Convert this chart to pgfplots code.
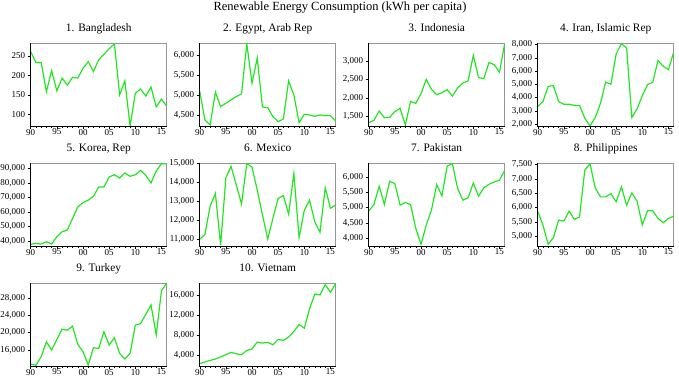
\documentclass[border=0pt]{standalone}
\usepackage{pgfplots}
\pgfplotsset{compat=1.18}
\usepgfplotslibrary{groupplots}
\usepackage{fontspec}
\setmainfont{Liberation Serif}
\definecolor{lime}{RGB}{34,230,34}
\definecolor{framegray}{RGB}{150,150,150}
\begin{document}
\begin{tikzpicture}
\begin{groupplot}[
  group style={group size=4 by 3, horizontal sep=33pt, vertical sep=37pt},
  scale only axis, width=136pt, height=83pt,
  xmin=1990, xmax=2016,
  xtick={1990,1995,2000,2005,2010,2015},
  xticklabels={90,95,00,05,10,15},
  minor x tick num=4,
  tick align=outside, xtick pos=bottom, ytick pos=left,
  major tick length=3pt, minor tick length=2pt,
  tick style={black, line width=0.4pt},
  axis line style={framegray, line width=0.8pt},
  extra description/.code={\draw[black,line width=0.5pt] (0,1) -- (0,0) -- (1,0);},
  scaled y ticks=false,
  tick label style={font=\fontsize{9}{10}\selectfont},
  /pgf/number format/fixed,
  /pgf/number format/1000 sep={,},
  /pgf/number format/assume math mode=true,
  yticklabel style={xshift=1pt},
  xticklabel style={yshift=3.5pt},
  every axis title/.style={font=\fontsize{11.4}{13}\selectfont, anchor=base, at={(0.5,1)}, yshift=12pt},
  no markers,
  every axis plot post/.append style={color=lime, line width=1.2pt},
]
\nextgroupplot[title={1. Bangladesh}, ymin=70, ymax=283, ytick={100,150,200,250}]
\addplot coordinates {(1990,261) (1991,233) (1992,233) (1993,158) (1994,212) (1995,160) (1996,193) (1997,175) (1998,195) (1999,193) (2000,218) (2001,235) (2002,210) (2003,240) (2004,254) (2005,268) (2006,281) (2007,150) (2008,186) (2009,70) (2010,154) (2011,165) (2012,147) (2013,170) (2014,119) (2015,139) (2016,121)};
\nextgroupplot[title={2. Egypt, Arab Rep}, ymin=4225, ymax=6292, ytick={4500,5000,5500,6000}]
\addplot coordinates {(1990,5100) (1991,4375) (1992,4250) (1993,5067) (1994,4708) (1995,4792) (1996,4875) (1997,4958) (1998,5025) (1999,6275) (2000,5292) (2001,5917) (2002,4700) (2003,4683) (2004,4458) (2005,4333) (2006,4400) (2007,5350) (2008,5000) (2009,4308) (2010,4517) (2011,4500) (2012,4467) (2013,4500) (2014,4483) (2015,4483) (2016,4350)};
\nextgroupplot[title={3. Indonesia}, ymin=1249, ymax=3476, ytick={1500,2000,2500,3000}]
\addplot coordinates {(1990,1338) (1991,1400) (1992,1651) (1993,1472) (1994,1481) (1995,1634) (1996,1724) (1997,1275) (1998,1910) (1999,1856) (2000,2117) (2001,2500) (2002,2233) (2003,2090) (2004,2144) (2005,2225) (2006,2054) (2007,2270) (2008,2404) (2009,2458) (2010,3144) (2011,2550) (2012,2520) (2013,2955) (2014,2892) (2015,2695) (2016,3460)};
\nextgroupplot[title={4. Iran, Islamic Rep}, ymin=1848, ymax=8127, ytick={2000,3000,4000,5000,6000,7000,8000}]
\addplot coordinates {(1990,3320) (1991,3700) (1992,4840) (1993,4910) (1994,3700) (1995,3500) (1996,3500) (1997,3400) (1998,3400) (1999,2440) (2000,1850) (2001,2490) (2002,3570) (2003,5170) (2004,5010) (2005,7290) (2006,8080) (2007,7750) (2008,2490) (2009,3150) (2010,4140) (2011,4980) (2012,5170) (2013,6810) (2014,6360) (2015,6110) (2016,7440)};
\nextgroupplot[title={5. Korea, Rep}, ymin=36560, ymax=93900, ytick={40000,50000,60000,70000,80000,90000}]
\addplot coordinates {(1990,37700) (1991,38400) (1992,37900) (1993,39500) (1994,37900) (1995,43000) (1996,46400) (1997,47600) (1998,55600) (1999,63600) (2000,66600) (2001,68200) (2002,70900) (2003,77300) (2004,77300) (2005,84200) (2006,85800) (2007,83500) (2008,87000) (2009,84700) (2010,85800) (2011,88800) (2012,85400) (2013,80100) (2014,88400) (2015,93400) (2016,93400)};
\nextgroupplot[title={6. Mexico}, ymin=10630, ymax=15035, ytick={11000,12000,13000,14000,15000}]
\addplot coordinates {(1990,10980) (1991,11250) (1992,12750) (1993,13420) (1994,10680) (1995,14240) (1996,14860) (1997,13860) (1998,12860) (1999,15000) (2000,14820) (2001,13600) (2002,12280) (2003,11000) (2004,12100) (2005,13160) (2006,13300) (2007,12320) (2008,14480) (2009,11070) (2010,12530) (2011,13060) (2012,11920) (2013,11360) (2014,13720) (2015,12630) (2016,12810)};
\nextgroupplot[title={7. Pakistan}, ymin=3750, ymax=6454, ytick={4000,4500,5000,5500,6000}]
\addplot coordinates {(1990,4886) (1991,5103) (1992,5697) (1993,5103) (1994,5860) (1995,5784) (1996,5081) (1997,5168) (1998,5103) (1999,4324) (2000,3805) (2001,4432) (2002,4919) (2003,5752) (2004,5384) (2005,6357) (2006,6432) (2007,5622) (2008,5243) (2009,5319) (2010,5805) (2011,5373) (2012,5643) (2013,5762) (2014,5838) (2015,5892) (2016,6216)};
\nextgroupplot[title={8. Philippines}, ymin=4651, ymax=7558, ytick={5000,5500,6000,6500,7000,7500}]
\addplot coordinates {(1990,5872) (1991,5384) (1992,4709) (1993,4942) (1994,5558) (1995,5523) (1996,5872) (1997,5581) (1998,5674) (1999,7302) (2000,7535) (2001,6686) (2002,6372) (2003,6372) (2004,6488) (2005,6198) (2006,6721) (2007,6081) (2008,6512) (2009,6221) (2010,5384) (2011,5884) (2012,5884) (2013,5616) (2014,5465) (2015,5616) (2016,5698)};
\nextgroupplot[title={9. Turkey}, ymin=12207, ymax=31560, ytick={16000,20000,24000,28000}]
\addplot coordinates {(1990,12670) (1991,12360) (1992,14370) (1993,17850) (1994,15920) (1995,18400) (1996,20800) (1997,20570) (1998,21500) (1999,17240) (2000,15540) (2001,12440) (2002,16470) (2003,16310) (2004,20180) (2005,17090) (2006,18790) (2007,15150) (2008,13840) (2009,15150) (2010,21730) (2011,22120) (2012,24210) (2013,26450) (2014,19450) (2015,29780) (2016,31480)};
\nextgroupplot[title={10. Vietnam}, ymin=1866, ymax=18530, ytick={4000,8000,12000,16000}]
\addplot coordinates {(1990,2330) (1991,2670) (1992,3000) (1993,3270) (1994,3670) (1995,4130) (1996,4600) (1997,4330) (1998,4130) (1999,5000) (2000,5270) (2001,6670) (2002,6470) (2003,6600) (2004,6130) (2005,7200) (2006,7000) (2007,7670) (2008,8800) (2009,10200) (2010,9470) (2011,13330) (2012,16330) (2013,16130) (2014,18200) (2015,16670) (2016,18470)};
\end{groupplot}
\node[anchor=base, font=\fontsize{12.5}{14}\selectfont] at ([xshift=309.3pt, yshift=32.5pt]group c1r1.north west) {Renewable Energy Consumption (kWh per capita)};
\pgfresetboundingbox
\path[use as bounding box] ([xshift=-30.7pt, yshift=43pt]group c1r1.north west) rectangle ++(679pt,-376pt);
\end{tikzpicture}
\end{document}
